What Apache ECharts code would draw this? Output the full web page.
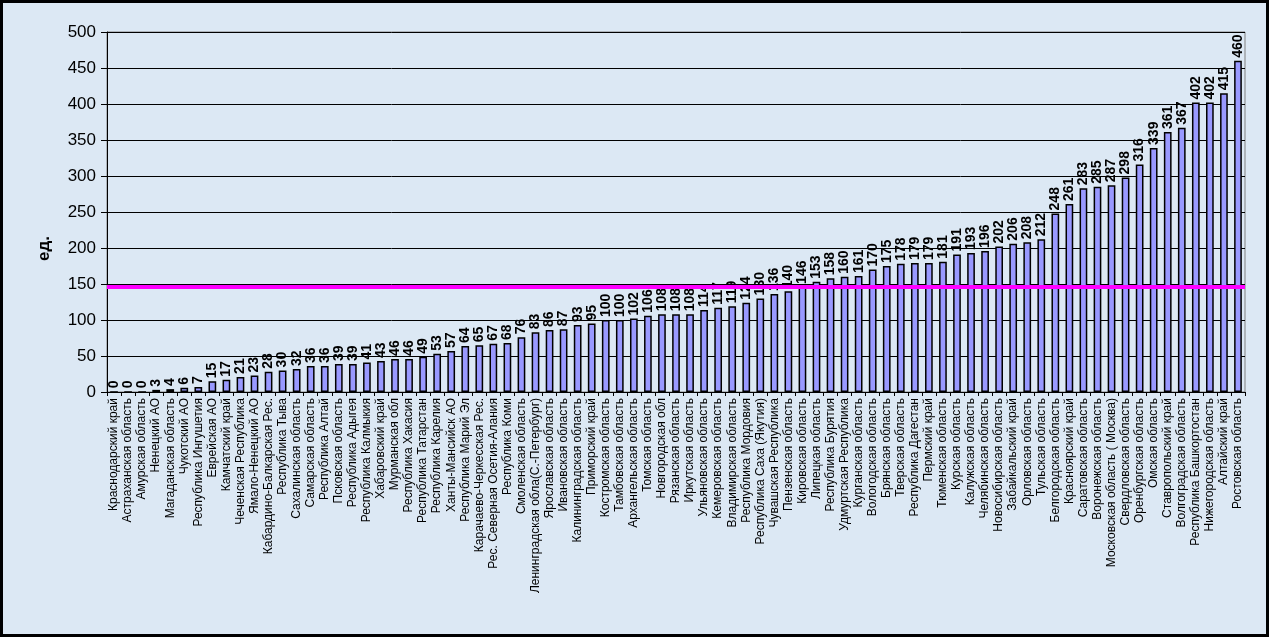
<!DOCTYPE html>
<html>
<head>
<meta charset="utf-8">
<script src="https://cdn.jsdelivr.net/npm/echarts@6/dist/echarts.min.js"></script>
<style>
  html, body { margin: 0; padding: 0; background: #dce8f4; }
  #chart { width: 1269px; height: 637px; }
</style>
</head>
<body>
<div id="chart"></div>
<script>
// Regions, sorted by count
const regions = [
  'Краснодарский край', 'Астраханская область', 'Амурская область', 'Ненецкий АО',
  'Магаданская область', 'Чукотский АО', 'Республика Ингушетия', 'Еврейская АО',
  'Камчатский край', 'Чеченская Республика', 'Ямало-Ненецкий АО', 'Кабардино-Балкарская Рес.',
  'Республика Тыва', 'Сахалинская область', 'Самарская область', 'Республика Алтай',
  'Псковская область', 'Республика Адыгея', 'Республика Калмыкия', 'Хабаровский край',
  'Мурманская обл', 'Республика Хакасия', 'Республика Татарстан', 'Республика Карелия',
  'Ханты-Мансийск АО', 'Республика Марий Эл', 'Карачаево-Черкесская Рес.', 'Рес. Северная Осетия-Алания',
  'Республика Коми', 'Смоленская область', 'Ленинградская обла(С.-Петербург)', 'Ярославская область',
  'Ивановская область', 'Калининградская область', 'Приморский край', 'Костромская область',
  'Тамбовская область', 'Архангельская область', 'Томская область', 'Новгородская обл',
  'Рязанская область', 'Иркутская область', 'Ульяновская область', 'Кемеровская область',
  'Владимирская область', 'Республика Мордовия', 'Республика Саха (Якутия)', 'Чувашская Республика',
  'Пензенская область', 'Кировская область', 'Липецкая область', 'Республика Бурятия',
  'Удмуртская Республика', 'Курганская область', 'Вологодская область', 'Брянская область',
  'Тверская область', 'Республика Дагестан', 'Пермский край', 'Тюменская область',
  'Курская область', 'Калужская область', 'Челябинская область', 'Новосибирская область',
  'Забайкальский край', 'Орловская область', 'Тульская область', 'Белгородская область',
  'Красноярский край', 'Саратовская область', 'Воронежская область', 'Московская область ( Москва)',
  'Свердловская область', 'Оренбургская область', 'Омская область', 'Ставропольский край',
  'Волгоградская область', 'Республика Башкортостан', 'Нижегородская область', 'Алтайский край',
  'Ростовская область'
];

const counts = [
  0, 0, 0, 3, 4, 6, 7, 15, 17, 21, 23, 28, 30, 32, 36, 36,
  39, 39, 41, 43, 46, 46, 49, 53, 57, 64, 65, 67, 68, 76, 83, 86,
  87, 93, 95, 100, 100, 102, 106, 108, 108, 108, 114, 117, 119, 124,
  130, 136, 140, 146, 153, 158, 160, 161, 170, 175, 178, 179, 179, 181,
  191, 193, 196, 202, 206, 208, 212, 248, 261, 283, 285, 287, 298, 316,
  339, 361, 367, 402, 402, 415, 460
];

// Reference level drawn as a horizontal line
const referenceLevel = 146;

const yMin = 0, yMax = 500, yStep = 50;

const chart = echarts.init(document.getElementById('chart'));
chart.setOption({
  backgroundColor: '#dce8f4',
  animation: false,
  grid: {
    left: 107, right: 24, top: 32, bottom: 245,
    show: true, borderColor: '#808080', borderWidth: 1, backgroundColor: 'transparent'
  },
  xAxis: {
    type: 'category',
    data: regions,
    boundaryGap: true,
    axisLine: { lineStyle: { color: '#000', width: 1 } },
    axisTick: { show: true, length: 4, lineStyle: { color: '#000' } },
    axisLabel: {
      interval: 0, rotate: 90, color: '#000', fontSize: 12,
      fontFamily: 'Liberation Sans, Arial, sans-serif', margin: 6
    }
  },
  yAxis: {
    type: 'value',
    min: yMin, max: yMax, interval: yStep,
    axisLine: { show: true, lineStyle: { color: '#000', width: 1 } },
    axisTick: { show: true, inside: false, length: 6, lineStyle: { color: '#000' } },
    axisLabel: {
      color: '#000', fontSize: 17, margin: 11,
      fontFamily: 'Liberation Sans, Arial, sans-serif'
    },
    splitLine: { show: true, lineStyle: { color: '#000', width: 1 } }
  },
  series: [{
    type: 'bar',
    data: counts,
    barWidth: '55%',
    itemStyle: { color: '#9999ff', borderColor: '#000', borderWidth: 1.5 },
    label: {
      show: true, position: 'top', rotate: 90, align: 'left', verticalAlign: 'middle',
      distance: 3, color: '#000', fontSize: 14, fontWeight: 'bold',
      fontFamily: 'Liberation Sans, Arial, sans-serif'
    },
    markLine: {
      silent: true,
      symbol: 'none',
      label: { show: false },
      lineStyle: { color: '#ff00ff', width: 4, type: 'solid' },
      data: [{ yAxis: referenceLevel }]
    }
  }],
  graphic: [
    {
      type: 'text',
      left: 36, top: 236,
      rotation: Math.PI / 2,
      style: {
        text: 'ед.', fill: '#000', font: 'bold 17px "Liberation Sans", Arial, sans-serif'
      }
    },
    {
      type: 'rect',
      shape: { x: 1.5, y: 1.5, width: 1266, height: 634 },
      style: { fill: 'none', stroke: '#000', lineWidth: 3 },
      silent: true
    }
  ]
});
</script>
</body>
</html>
